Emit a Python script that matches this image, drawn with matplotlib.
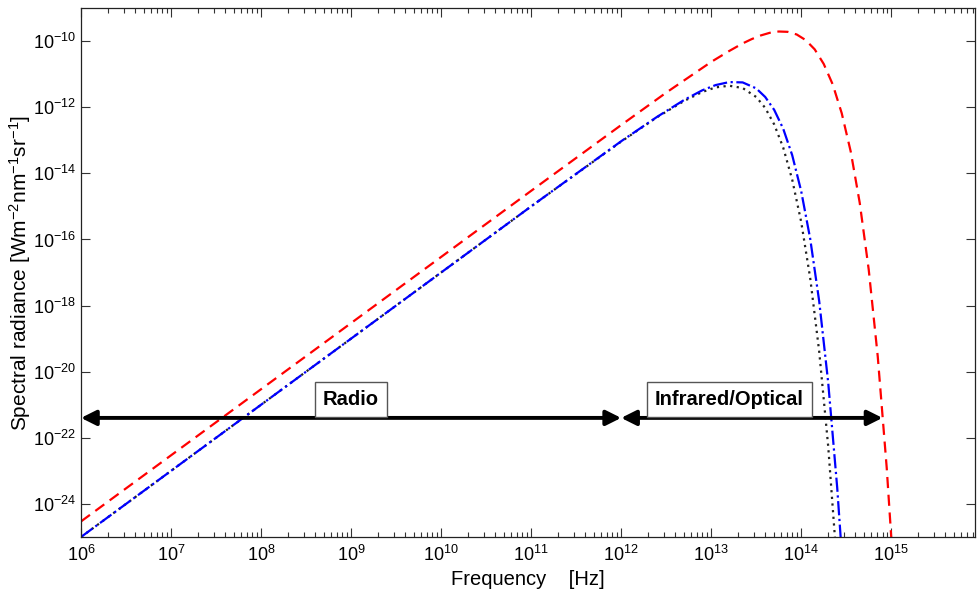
import numpy as np
import matplotlib
matplotlib.use("Agg")
import matplotlib.pyplot as plt
from matplotlib.ticker import FixedLocator, NullLocator, NullFormatter, LogFormatterMathtext

plt.rcParams['font.family'] = ['Liberation Sans', 'DejaVu Sans']
plt.rcParams['mathtext.fontset'] = 'custom'
plt.rcParams['mathtext.rm'] = 'Liberation Sans'
plt.rcParams['mathtext.it'] = 'Liberation Sans:italic'
plt.rcParams['mathtext.bf'] = 'Liberation Sans:bold'

# ---- data (log10 frequency [Hz], log10 spectral radiance) ----
red_logf = [6, 9, 11, 12, 12.5, 13, 13.2, 13.35, 13.45, 13.55, 13.65, 13.75, 13.85,
            13.95, 14.05, 14.15, 14.25, 14.35, 14.45, 14.55, 14.65, 14.75, 14.85,
            14.95, 15.02]
red_logB = [-24.53, -18.53, -14.53, -12.54, -11.56, -10.63, -10.30, -10.07, -9.94,
            -9.83, -9.75, -9.71, -9.72, -9.80, -9.97, -10.25, -10.69, -11.31,
            -12.18, -13.34, -14.89, -16.91, -19.53, -22.91, -25.83]

blue_logf = [6, 9, 11, 12, 12.4, 12.7, 12.9, 13.05, 13.2, 13.35, 13.5, 13.6, 13.7,
             13.8, 13.9, 14.0, 14.1, 14.2, 14.3, 14.4, 14.47]
blue_logB = [-25.0, -19.0, -15.0, -13.03, -12.29, -11.78, -11.49, -11.33, -11.24,
             -11.25, -11.43, -11.69, -12.08, -12.65, -13.45, -14.54, -15.98,
             -17.87, -20.33, -23.51, -26.25]

black_logf = [6, 9, 11, 12, 12.4, 12.7, 12.9, 13.05, 13.2, 13.35, 13.5, 13.6, 13.7,
              13.8, 13.9, 14.0, 14.1, 14.2, 14.3, 14.4]
black_logB = [-25.0, -19.0, -15.0, -13.04, -12.30, -11.81, -11.54, -11.40, -11.35,
              -11.42, -11.69, -12.02, -12.52, -13.22, -14.19, -15.47, -17.17,
              -19.39, -22.26, -25.95]

x_tick_exponents = list(range(6, 16))
y_tick_exponents = list(range(-24, -9, 2))

band_names = ["Radio", "Infrared/Optical"]
band_start = [1e6, 1e12]
band_end = [1e12, 8e14]
band_label_x = [1e9, 1.6e13]
band_level = 4e-22
band_label_y = 1.45e-21

# ---- figure ----
fig = plt.figure(figsize=(9.77, 5.95), dpi=100)
ax = fig.add_axes([0.0829, 0.0975, 0.915, 0.889])

def tolin(a):
    return 10.0 ** np.asarray(a, dtype=float)

ax.plot(tolin(black_logf), tolin(black_logB), color='#222222', ls=(0, (1, 2)), lw=1.6)
ax.plot(tolin(blue_logf), tolin(blue_logB), color='#0000ff', ls='-.', lw=1.6)
ax.plot(tolin(red_logf), tolin(red_logB), color='#ff0000', ls=(0, (5, 3)), lw=1.6)

ax.set_xscale('log')
ax.set_yscale('log')
xmax = 10 ** 15.93
ax.set_xlim(1e6, xmax)
ax.set_ylim(1e-25, 1e-9)

ax.xaxis.set_major_locator(FixedLocator(tolin(x_tick_exponents)))
minor_x = [m * 10.0 ** e for e in range(6, 16) for m in range(2, 10) if m * 10.0 ** e < xmax]
ax.xaxis.set_minor_locator(FixedLocator(minor_x))
ax.xaxis.set_minor_formatter(NullFormatter())
ax.yaxis.set_major_locator(FixedLocator(tolin(y_tick_exponents)))
ax.yaxis.set_minor_locator(NullLocator())
ax.yaxis.set_minor_formatter(NullFormatter())
ax.xaxis.set_major_formatter(LogFormatterMathtext())
ax.yaxis.set_major_formatter(LogFormatterMathtext())

ax.tick_params(which='both', direction='in', top=True, right=True, width=0.8,
               color='#333333')
ax.tick_params(which='major', length=6.5, labelsize=13)
ax.tick_params(axis='x', which='major', pad=5.5)
ax.tick_params(axis='y', which='major', pad=3.5)
ax.tick_params(which='minor', length=3.3)
for s in ax.spines.values():
    s.set_linewidth(0.9)
    s.set_color('#222222')

ax.set_xlabel('Frequency    [Hz]', fontsize=14.5, labelpad=4)
ax.set_ylabel('Spectral radiance [Wm$^{-2}$nm$^{-1}$sr$^{-1}$]', fontsize=15,
              va='center')
ax.yaxis.set_label_coords(-0.068, 0.5)

for name, x0, x1, lx in zip(band_names, band_start, band_end, band_label_x):
    ax.annotate('', xy=(x0, band_level), xytext=(x1, band_level),
                arrowprops=dict(arrowstyle='<|-|>,head_length=0.5,head_width=0.25',
                                lw=2.8, color='k', mutation_scale=18,
                                shrinkA=0, shrinkB=0))
    ax.text(lx, band_label_y, name, fontsize=14.5, fontweight='bold',
            ha='center', va='center',
            bbox=dict(boxstyle='square,pad=0.38', fc='white', ec='#555555', lw=1))

fig.savefig('out.png', dpi=100)
